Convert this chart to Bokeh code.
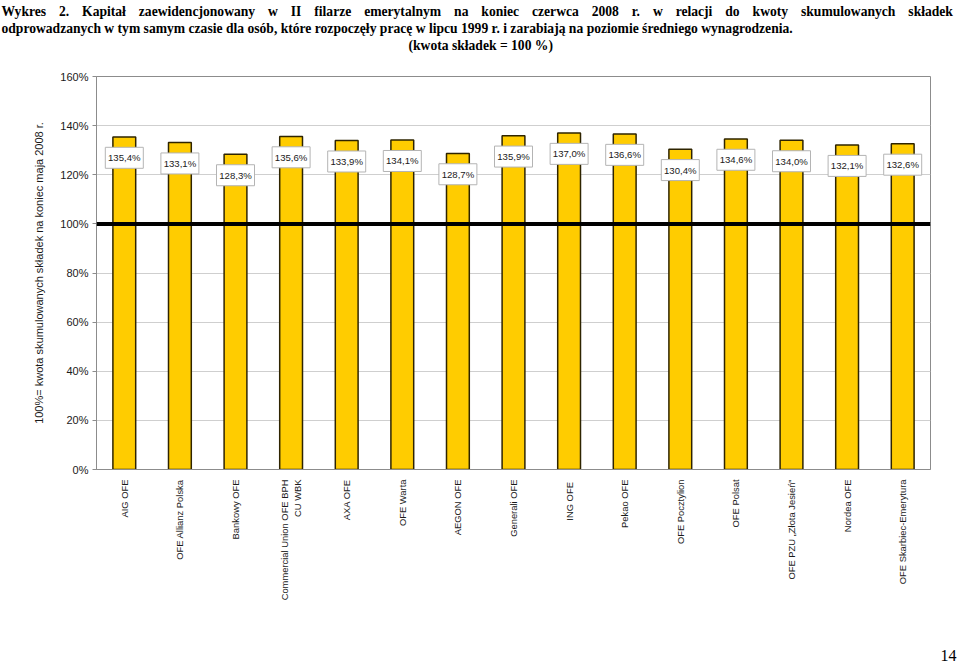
import math
from bokeh.plotting import figure
from bokeh.models import FactorRange, Range1d, Span, Title, FixedTicker, ColumnDataSource
from bokeh.core.properties import value
from bokeh.embed import file_html
from bokeh.resources import INLINE

# ---- data ----
funds = [
    "AIG OFE",
    "OFE Allianz Polska",
    "Bankowy OFE",
    "Commercial Union OFE BPH\nCU WBK",
    "AXA OFE",
    "OFE Warta",
    "AEGON OFE",
    "Generali OFE",
    "ING  OFE",
    "Pekao OFE",
    "OFE Pocztylion",
    "OFE Polsat",
    "OFE PZU \u201eZłota Jesień\u201d",
    "Nordea OFE",
    "OFE Skarbiec-Emerytura",
]
values = [135.4, 133.1, 128.3, 135.6, 133.9, 134.1, 128.7, 135.9,
          137.0, 136.6, 130.4, 134.6, 134.0, 132.1, 132.6]
value_labels = ["135,4%", "133,1%", "128,3%", "135,6%", "133,9%", "134,1%", "128,7%", "135,9%",
                "137,0%", "136,6%", "130,4%", "134,6%", "134,0%", "132,1%", "132,6%"]
y_ticks = [0, 20, 40, 60, 80, 100, 120, 140, 160]
y_tick_labels = ["0%", "20%", "40%", "60%", "80%", "100%", "120%", "140%", "160%"]
reference_level = 100

title_1 = "Wykres 2. Kapitał zaewidencjonowany w II filarze emerytalnym  na koniec czerwca 2008 r. w relacji do kwoty skumulowanych składek"
title_2 = "odprowadzanych w tym samym czasie dla osób, które rozpoczęły pracę w lipcu 1999 r. i zarabiają na poziomie średniego wynagrodzenia."
title_3 = "(kwota składek = 100 %)"
y_title = "100%= kwota skumulowanych składek na koniec maja 2008 r."
page_no = "14"

# label boxes sit a fixed distance below each bar top
label_y = [v - 8.5 for v in values]

src = ColumnDataSource(dict(fund=funds, val=values, lab=value_labels, ly=label_y))

p = figure(
    x_range=FactorRange(*funds),
    y_range=Range1d(0, 160),
    width=960, height=664,
    output_backend="svg", toolbar_location=None,
    min_border_left=96, min_border_right=30,
    min_border_top=76, min_border_bottom=195,
)
p.background_fill_color = "white"
p.border_fill_color = "white"
p.outline_line_color = "#8c8c8c"

serif = "Liberation Serif"
sans = "Liberation Sans"

# justified first line: widen each word gap (as in the justified original)
title_1_just = title_1.replace("  ", " ").replace(" ", " \u2002\u2009")

def ttl(txt, size="13.6px", align="left", offset=0.0):
    return Title(text=txt, align=align, offset=offset, text_font=serif, text_font_style="bold",
                 text_font_size=size, standoff=0, text_color="black")

# above panel: closest to the plot first
p.add_layout(ttl("\u00a0", size="20.6px"), "above")          # spacer
p.add_layout(ttl(title_3, offset=312), "above")
p.add_layout(ttl(title_2, offset=-95), "above")
p.add_layout(ttl(title_1_just, offset=-95), "above")

p.vbar(x="fund", top="val", width=0.41, source=src,
       fill_color="#FFCC00", line_color="#2e2400", line_width=1.5)

p.add_layout(Span(location=reference_level, dimension="width",
                  line_color="black", line_width=4))

p.rect(x="fund", y="ly", width=38, height=21, width_units="screen", height_units="screen",
       source=src, fill_color="white", line_color="#b4b4b4", line_width=1)
p.text(x="fund", y="ly", text="lab", source=src, text_align="center", text_baseline="middle",
       text_font=value(sans), text_font_size="9.6px", text_color="#1a1a1a")

# axes
p.yaxis.ticker = FixedTicker(ticks=y_ticks)
p.yaxis.major_label_overrides = {t: l for t, l in zip(y_ticks, y_tick_labels)}
p.yaxis.major_label_text_font = sans
p.yaxis.major_label_text_font_size = "11px"
p.yaxis.major_label_text_color = "#1a1a1a"
p.yaxis.axis_line_color = "#8c8c8c"
p.yaxis.major_tick_line_color = "#8c8c8c"
p.yaxis.major_tick_out = 4
p.yaxis.major_tick_in = 0
p.yaxis.minor_tick_line_color = None
p.yaxis.major_label_standoff = 4
p.yaxis.axis_label = y_title
p.yaxis.axis_label_text_font = sans
p.yaxis.axis_label_text_font_style = "normal"
p.yaxis.axis_label_text_font_size = "11px"
p.yaxis.axis_label_text_color = "#1a1a1a"
p.yaxis.axis_label_standoff = 12

p.xaxis.major_label_orientation = math.pi / 2
p.xaxis.major_label_text_font = sans
p.xaxis.major_label_text_font_size = "9.4px"
p.xaxis.major_label_text_color = "#1a1a1a"
p.xaxis.axis_line_color = "#8c8c8c"
p.xaxis.major_tick_line_color = None
p.xaxis.major_label_standoff = 4

p.xgrid.grid_line_color = None
p.ygrid.grid_line_color = "#cfcfcf"

# below panel: after the axis, a spacer and then the page number
p.add_layout(Title(text="\u00a0", text_font=serif, text_font_size="38px", standoff=0), "below")
p.add_layout(Title(text=page_no, align="left", offset=844, text_font=serif,
                   text_font_style="normal", text_font_size="16px", standoff=0,
                   text_color="black"), "below")

open("out.html", "w").write(file_html(p, INLINE))
